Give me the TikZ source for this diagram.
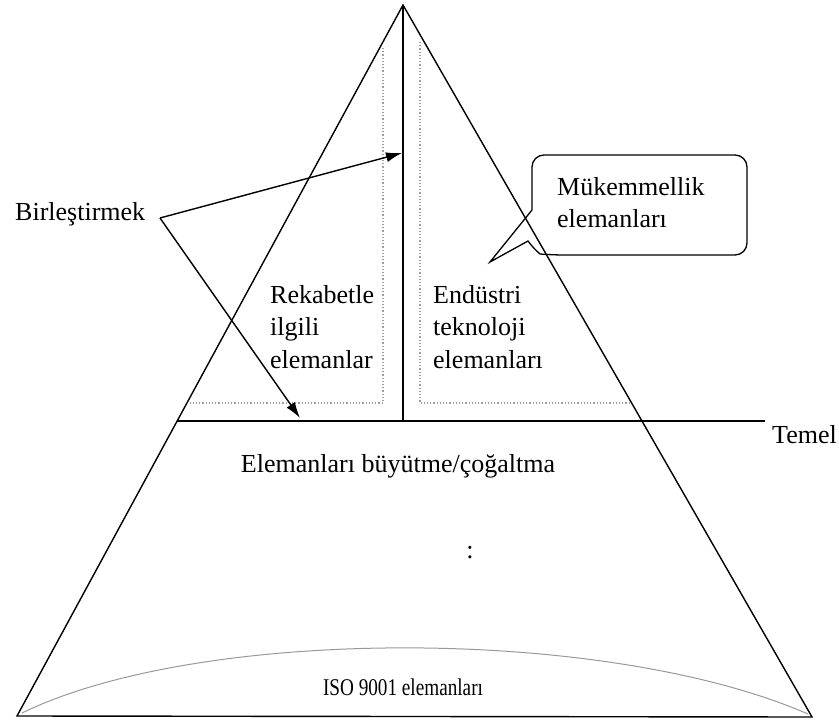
\documentclass[tikz,border=0pt]{standalone}
\usepackage{fontspec}
\setmainfont{Liberation Serif}
\usetikzlibrary{arrows.meta}
\begin{document}
\begin{tikzpicture}[x=1pt,y=-1pt,
  edge/.style={line width=1.4pt, black},
  guide/.style={line width=1.2pt, gray!75, dotted},
  lbl/.style={inner sep=0pt, font=\fontsize{26}{32}\selectfont, anchor=base west},
  arr/.style={line width=1.4pt, -{Latex[length=16pt,width=10pt]}}]
\useasboundingbox (0,0) rectangle (839,728);
% pyramid
\coordinate (apex) at (403,5);
\coordinate (bl) at (17,716);
\coordinate (br) at (812,717);
\draw[edge] (apex) -- (bl) -- (br) -- cycle;
% central divider
\coordinate (mid) at (403,421);
\draw[edge] (apex) -- (mid);
% Temel line
\coordinate (tl) at (177,421);
\coordinate (tr) at (765,421);
\draw[edge] (tl) -- (tr);
\node[lbl] (temel) at (772,443) {Temel};
% dotted boxes
\coordinate (d1a) at (383,48);
\coordinate (d1b) at (383,403);
\coordinate (d1c) at (188,403);
\draw[guide] (d1a) -- (d1b) -- (d1c);
\coordinate (d2a) at (420,42);
\coordinate (d2b) at (420,403);
\coordinate (d2c) at (630,403);
\draw[guide] (d2a) -- (d2b) -- (d2c);
% left column text
\node[lbl] (r1) at (270,303) {Rekabetle};
\node[lbl] (r2) at (270,335) {ilgili};
\node[lbl] (r3) at (270,368) {elemanlar};
% right column text
\node[lbl] (e1) at (433,303) {Endüstri};
\node[lbl] (e2) at (433,335) {teknoloji};
\node[lbl] (e3) at (433,368) {elemanları};
% callout
\draw[line width=1.3pt, rounded corners=12pt] (532,210) -- (532,155) -- (747,155) -- (747,255) -- (552,255)
  [sharp corners] .. controls (540,254) and (533,248) .. (528,241) -- (490,262) -- cycle;
\node[lbl] (m1) at (557,195) {Mükemmellik};
\node[lbl] (m2) at (557,227) {elemanları};
% Birlestirmek arrows
\node[lbl] (bir) at (15,220) {Birleştirmek};
\coordinate (hub) at (160,218);
\coordinate (aim1) at (402,153);
\coordinate (aim2) at (300,418);
\draw[arr] (hub) -- (aim1);
\draw[arr] (hub) -- (aim2);
% lower text
\node[inner sep=0pt, font=\fontsize{26}{32}\selectfont, anchor=base] (buy) at (398,472) {Elemanları büyütme/çoğaltma};
\node[inner sep=0pt, font=\fontsize{26}{32}\selectfont] (dots) at (470,553) {:};
% ISO arc
\draw[line width=1pt, gray!80] (22,713) .. controls (200,626) and (606,626) .. (808,714);
\node[inner sep=0pt, font=\fontsize{24}{28}\selectfont, anchor=base] (iso) at (403,695) {\scalebox{0.8}[1]{ISO 9001 elemanları}};
\end{tikzpicture}
\end{document}
